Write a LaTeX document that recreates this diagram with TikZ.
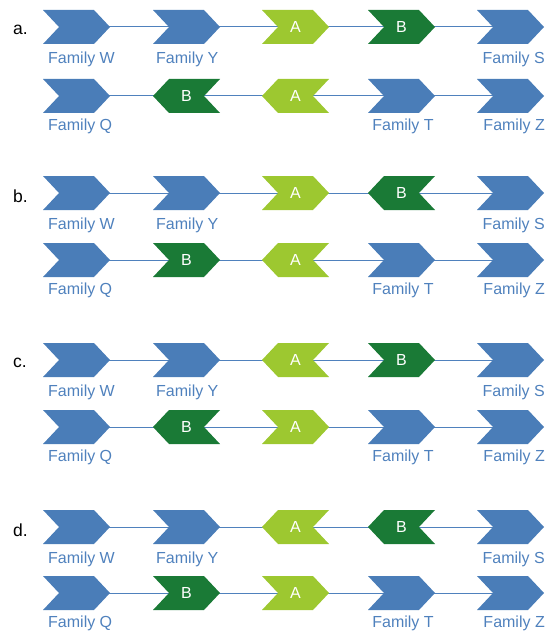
\documentclass[tikz,border=0pt]{standalone}
\usepackage{fontspec}
\setmainfont{Liberation Sans}
\usetikzlibrary{backgrounds}
\definecolor{chblue}{HTML}{4A7DB8}
\definecolor{lgreen}{HTML}{9DC830}
\definecolor{dgreen}{HTML}{1A7A36}
\definecolor{labblue}{HTML}{4F81BD}
\tikzset{
  chtext/.style={inner sep=1bp, text=white, font=\fontsize{16bp}{19bp}\selectfont},
  lab/.style={inner sep=0pt, text=labblue, font=\fontsize{16bp}{19bp}\selectfont},
  rowlab/.style={inner sep=0pt, anchor=west, text=black, font=\fontsize{17.5bp}{20bp}\selectfont},
  conn/.style={draw=labblue, line width=1bp},
  fb/.style={fill=chblue},
  fl/.style={fill=lgreen},
  fd/.style={fill=dgreen}
}
% right-pointing chevron: name, x, y, fill style, text
\newcommand\chevR[5]{%
  \fill[#4] (#2-33.5,#3-17) -- (#2+17.5,#3-17) -- (#2+33.5,#3) -- (#2+17.5,#3+17) -- (#2-33.5,#3+17) -- (#2-17.5,#3) -- cycle;
  \node[chtext] (#1) at (#2,#3) {#5};}
% left-pointing chevron
\newcommand\chevL[5]{%
  \fill[#4] (#2+33.5,#3-17) -- (#2-17.5,#3-17) -- (#2-33.5,#3) -- (#2-17.5,#3+17) -- (#2+33.5,#3+17) -- (#2+17.5,#3) -- cycle;
  \node[chtext] (#1) at (#2,#3) {#5};}
% one group: prefix, top y, bottom y, letter, top A dir, top B dir, bottom B dir, bottom A dir
\newcommand\group[8]{%
  \node[rowlab] (#1lab) at (13,#2+3) {#4};
  \chevR{#1w}{76.5}{#2}{fb}{}
  \chevR{#1y}{186.5}{#2}{fb}{}
  \csname chev#5\endcsname{#1tA}{295.5}{#2}{fl}{A}
  \csname chev#6\endcsname{#1tB}{401.5}{#2}{fd}{B}
  \chevR{#1s}{510.5}{#2}{fb}{}
  \chevR{#1q}{76.5}{#3}{fb}{}
  \csname chev#7\endcsname{#1bB}{186.5}{#3}{fd}{B}
  \csname chev#8\endcsname{#1bA}{295.5}{#3}{fl}{A}
  \chevR{#1t}{401.5}{#3}{fb}{}
  \chevR{#1z}{510.5}{#3}{fb}{}
  \node[lab, anchor=west] (#1wl) at (48,#2+32) {Family W};
  \node[lab, anchor=west] (#1yl) at (156,#2+32) {Family Y};
  \node[lab, anchor=east] (#1sl) at (545,#2+32) {Family S};
  \node[lab, anchor=west] (#1ql) at (48,#3+30) {Family Q};
  \node[lab] (#1tl) at (403,#3+30) {Family T};
  \node[lab, anchor=east] (#1zl) at (545,#3+30) {Family Z};
  \begin{scope}[on background layer]
    \draw[conn] (#1w) -- (#1y) -- (#1tA) -- (#1tB) -- (#1s);
    \draw[conn] (#1q) -- (#1bB) -- (#1bA) -- (#1t) -- (#1z);
  \end{scope}}
\begin{document}
\begin{tikzpicture}[x=1bp, y=-1bp]
  \useasboundingbox (0,0) rectangle (552,632);
  \group{a}{27}{96}{a.}{R}{R}{L}{L}
  \group{b}{193}{260}{b.}{R}{L}{R}{L}
  \group{c}{360}{427}{c.}{L}{R}{L}{R}
  \group{d}{527}{593}{d.}{L}{L}{R}{R}
\end{tikzpicture}
\end{document}
